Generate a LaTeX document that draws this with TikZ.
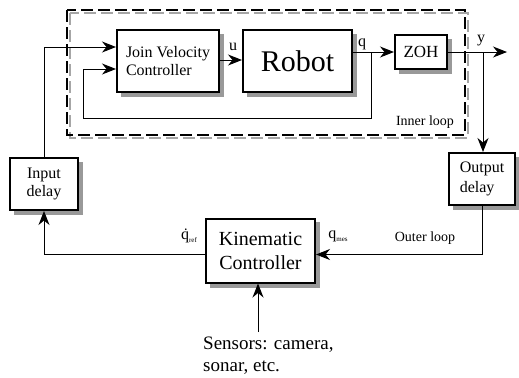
\documentclass[tikz,border=0pt]{standalone}
\usepackage{fontspec}
\setmainfont{Liberation Serif}
\usetikzlibrary{arrows.meta,calc}
\tikzset{
  blk/.style={draw=black, line width=2bp, fill=white, inner sep=0pt},
  shd/.style={fill=black!40, draw=none},
  conn/.style={line width=1bp},
  arr/.style={conn, -{Stealth[length=14bp, width=11bp, inset=4.5bp]}},
  lbl/.style={inner sep=0pt},
}
\newcommand{\fs}[2]{\fontsize{#1bp}{#2bp}\selectfont}
\begin{document}
\begin{tikzpicture}[x=1bp,y=-1bp]
\useasboundingbox (0,0) rectangle (519,377);
% inner loop dashed frame (shadow + frame)
\draw[black!35, line width=2.5bp, dash pattern=on 12bp off 5bp] (70,13) rectangle (468,138);
\draw[black, line width=2.5bp, dash pattern=on 12bp off 5bp] (67,10) rectangle (465,135);
% block shadows
\fill[shd] (121,34) rectangle (224,97);
\fill[shd] (247,34) rectangle (357,97);
\fill[shd] (399,39) rectangle (452,74);
\fill[shd] (14,162) rectangle (83,215);
\fill[shd] (453,157) rectangle (520,210);
\fill[shd] (210,222) rectangle (320,288);
% blocks
\node[blk, minimum width=102bp, minimum height=62bp, align=left, font=\fs{16}{18}] (jvc) at (168,61) {Join Velocity\\Controller};
\node[blk, minimum width=109bp, minimum height=62bp, font=\fs{30}{32}] (rb) at (297.5,61) {Robot};
\node[blk, minimum width=52bp, minimum height=34bp, font=\fs{17}{19}] (zoh) at (421,52) {ZOH};
\node[blk, minimum width=68bp, minimum height=52bp, align=center, font=\fs{16}{18}] (id) at (44,184) {Input\\delay};
\node[blk, minimum width=66bp, minimum height=52bp, align=left, font=\fs{16}{20}] (od) at (482,179) {Output\\delay};
\node[blk, minimum width=109bp, minimum height=64bp, align=center, font=\fs{20}{24}] (kc) at (260.5,250.5) {Kinematic\\Controller};
\node[lbl, anchor=north west, align=left, font=\fs{19}{22}] (sens) at (203,337) {Sensors: camera,\\sonar, etc.};
% coordinates
\coordinate (qb) at (371,52);
\coordinate (yb) at (483,52);
\coordinate (yend) at (507,52);
\coordinate (sen) at (258,332);
% connectors
\draw[arr] ($(jvc.east)+(0,-1)$) -- ($(rb.west)+(0,-1)$);
\draw[arr] ($(rb.east)+(0,-9)$) -- (zoh.west);
\draw[arr] (zoh.east) -- (yend);
\draw[conn] (qb) -- (371,118) -- (83,118) -- (83,69) coordinate (fb);
\draw[arr] (fb) -- ($(jvc.west)+(0,8)$);
\draw[arr] (yb) -- (yb |- od.north);
\draw[arr] (od.south) |- ($(kc.east)+(0,4)$);
\draw[arr] ($(kc.west)+(0,4)$) -| (id.south);
\draw[arr] (id.north) |- ($(jvc.west)+(0,-14)$);
\draw[arr] (sen) -- (sen |- kc.south);
% labels
\node[lbl, font=\fs{16}{18}] (lu) at (233,47) {u};
\node[lbl, font=\fs{16}{18}] (lq) at (362,44) {q};
\node[lbl, font=\fs{16}{18}] (ly) at (481,41) {y};
\node[lbl, font=\fs{14}{16}] (lin) at (425,122) {Inner loop};
\node[lbl, font=\fs{14}{16}] (lout) at (425,238) {Outer loop};
\node[lbl, font=\fs{16}{18}] (lqr) at (189,236) {\.{q}\raisebox{-3bp}{\fs{7}{8}ref}};
\node[lbl, font=\fs{16}{18}] (lqm) at (338,236) {q\raisebox{-3bp}{\fs{7}{8}mes}};
\end{tikzpicture}
\end{document}
